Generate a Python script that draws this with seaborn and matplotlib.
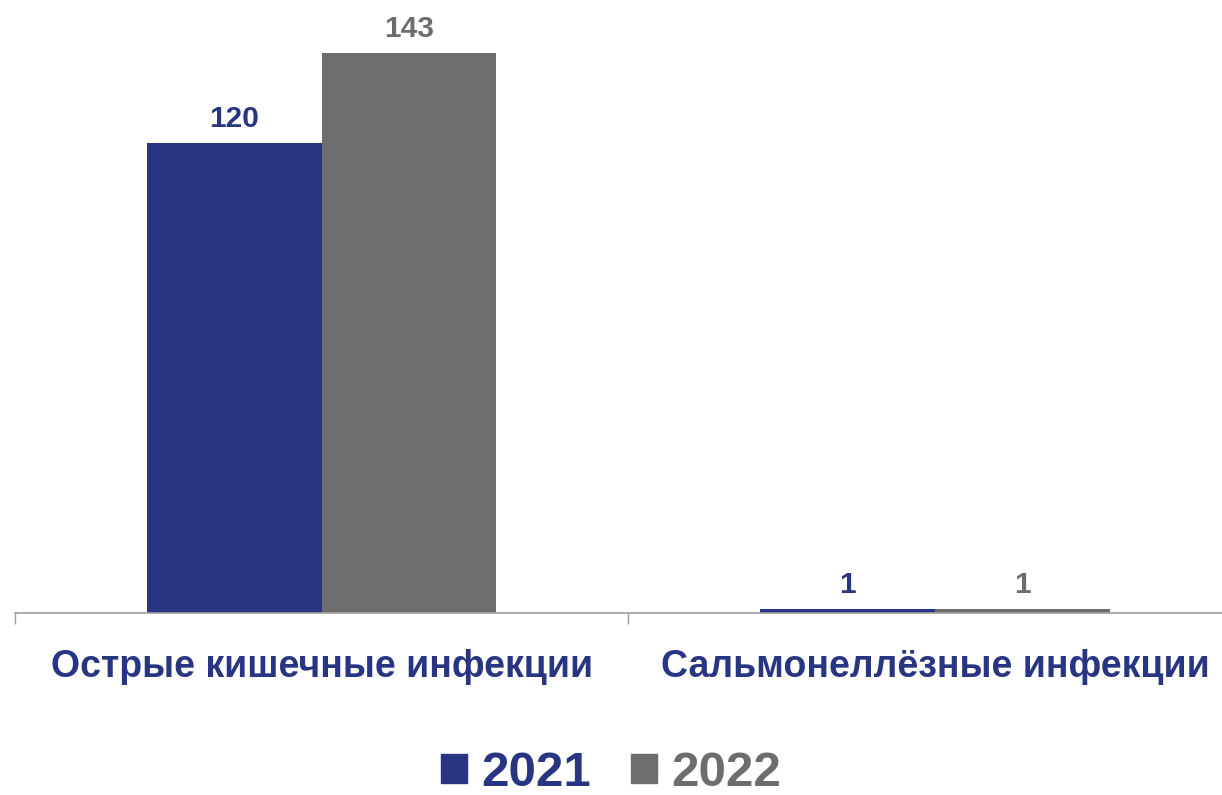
import matplotlib
matplotlib.use('Agg')
import matplotlib.pyplot as plt
from matplotlib.patches import Patch
import seaborn as sns
import pandas as pd

# data
categories = ['Острые кишечные инфекции', 'Сальмонеллёзные инфекции']
years = ['2021', '2022']
values_2021 = [120, 1]
values_2022 = [143, 1]
colors = ['#283583', '#6d6d6d']

df = pd.DataFrame({
    'Категория': categories * 2,
    'Год': [years[0]] * 2 + [years[1]] * 2,
    'Число': values_2021 + values_2022,
})

sns.set_theme(style='white')
plt.rcParams['font.family'] = ['Liberation Sans', 'DejaVu Sans']

fig = plt.figure(figsize=(12.22, 7.95), dpi=100)
ax = fig.add_axes([15 / 1222, 182 / 795, 1207 / 1222, 613 / 795])

sns.barplot(data=df, x='Категория', y='Число', hue='Год', palette=colors,
            width=0.57, gap=0, legend=False, ax=ax, saturation=1, linewidth=0)

for cont, col in zip(ax.containers, colors):
    ax.bar_label(cont, padding=7, fontsize=21.5, fontweight='bold', color=col)

ax.set_xlabel('')
ax.set_ylabel('')
ax.set_yticks([])
for s in ['top', 'right', 'left']:
    ax.spines[s].set_visible(False)
ax.spines['bottom'].set_color('#a0a0a0')
ax.spines['bottom'].set_linewidth(1.2)

ax.tick_params(axis='x', which='major', length=0, pad=26, labelsize=27,
               labelcolor='#283583')
for lbl in ax.get_xticklabels():
    lbl.set_fontweight('bold')
ax.set_xticks([-0.5, 0.5], minor=True)
ax.tick_params(axis='x', which='minor', length=8, width=1, color='#a0a0a0',
               direction='out', bottom=True)
ax.set_xlim(-0.5, 1.468)
ax.set_ylim(0, 156.5)

handles = [Patch(color=c) for c in colors]
leg = fig.legend(handles, years, loc='center', bbox_to_anchor=(0.5, 22 / 795),
                 ncol=2, frameon=False, handlelength=0.53,
                 handleheight=0.53, handletextpad=0.3, columnspacing=0.8,
                 prop={'weight': 'bold', 'size': 35.5})
for t, c in zip(leg.get_texts(), colors):
    t.set_color(c)

fig.savefig('out.png', dpi=100)
